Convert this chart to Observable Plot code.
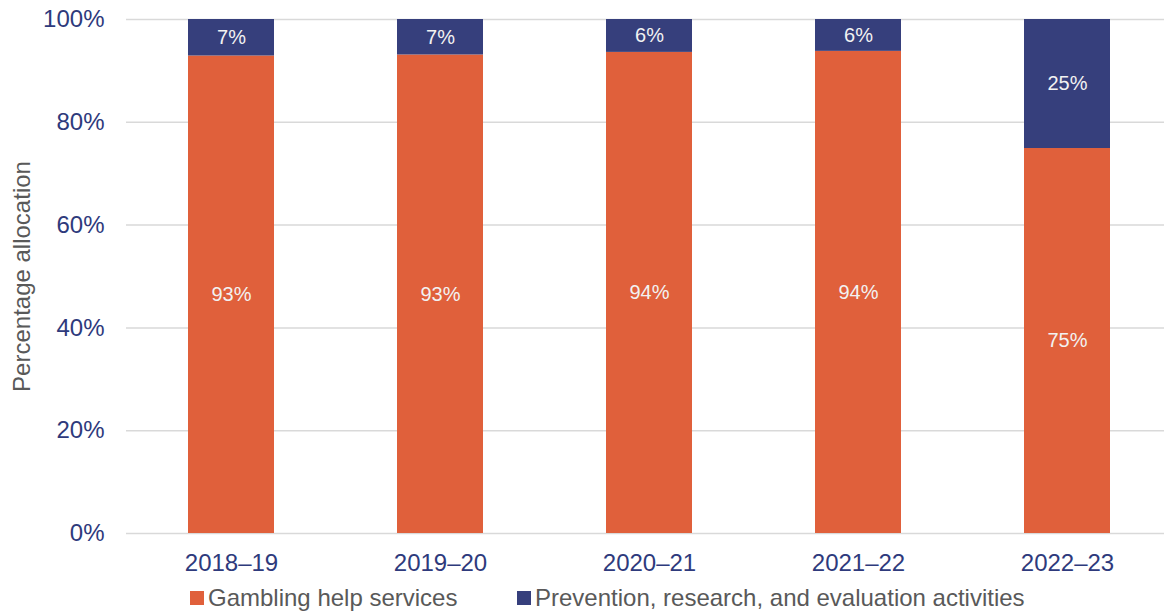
<!DOCTYPE html>
<html><head><meta charset="utf-8">
<script src="https://cdn.jsdelivr.net/npm/d3@7"></script>
<script src="https://cdn.jsdelivr.net/npm/@observablehq/plot@0.6"></script>
<style>
body{margin:0;background:#fff;font-family:"Liberation Sans",Arial,sans-serif;}
#wrap{position:relative;width:1164px;height:611px;}
.legend{position:absolute;top:584px;left:0;height:28px;font-size:24px;color:#595959;}
.item{position:absolute;top:0;display:flex;align-items:center;white-space:nowrap;line-height:28px;}
.sw{width:14px;height:14px;margin-right:4px;}
</style></head>
<body><div id="wrap"><div id="chart"></div>
<div class="legend">
<div class="item" style="left:190px"><span class="sw" style="background:#E0603B"></span>Gambling help services</div>
<div class="item" style="left:517px"><span class="sw" style="background:#363F7C"></span>Prevention, research, and evaluation activities</div>
</div></div>
<script>
const years = ["2018–19","2019–20","2020–21","2021–22","2022–23"];
const seriesNames = ["Gambling help services","Prevention, research, and evaluation activities"];
const gambling = [92.9, 93.1, 93.6, 93.8, 74.9];
const prevention = [7.1, 6.9, 6.4, 6.2, 25.1];
const yTicks = [0,20,40,60,80,100];
const colors = ["#E0603B","#363F7C"];

const data = [];
years.forEach((y,i)=>{
  data.push({year:y, series:seriesNames[0], value:gambling[i]});
  data.push({year:y, series:seriesNames[1], value:prevention[i]});
});

const chart = Plot.plot({
  width:1164, height:579,
  marginTop:19, marginBottom:46, marginLeft:126, marginRight:0,
  style:{fontFamily:"Liberation Sans, Arial, sans-serif", fontSize:"24px", background:"#fff"},
  x:{domain:years, range:[126.5,1171.5], paddingInner:0.59, paddingOuter:0.295, label:null},
  y:{domain:[0,100], label:null},
  color:{domain:seriesNames, range:colors},
  marks:[
    Plot.ruleY(yTicks, {stroke:"#D9D9D9", strokeWidth:1.5}),
    Plot.barY(data, {x:"year", y:"value", fill:"series", order:null}),
    Plot.text(data, Plot.stackY({x:"year", y:"value", z:"series", order:null, text:d=>Math.round(d.value)+"%", fill:"#F2F2F2", fontSize:20})),
    Plot.axisY({ticks:yTicks, tickSize:0, tickPadding:22, tickFormat:d=>d+"%", color:"#2E3A7C", fontSize:24, label:"Percentage allocation", labelAnchor:"center", labelOffset:114, labelArrow:"none"}),
    Plot.axisX({tickSize:0, tickPadding:20, color:"#2E3A7C", fontSize:24, label:null})
  ]
});
document.getElementById("chart").appendChild(chart);
chart.querySelectorAll("[aria-label='y-axis label'] text, [aria-label='y-axis label']").forEach(e=>{e.setAttribute("fill","#595959");});
</script></body></html>
